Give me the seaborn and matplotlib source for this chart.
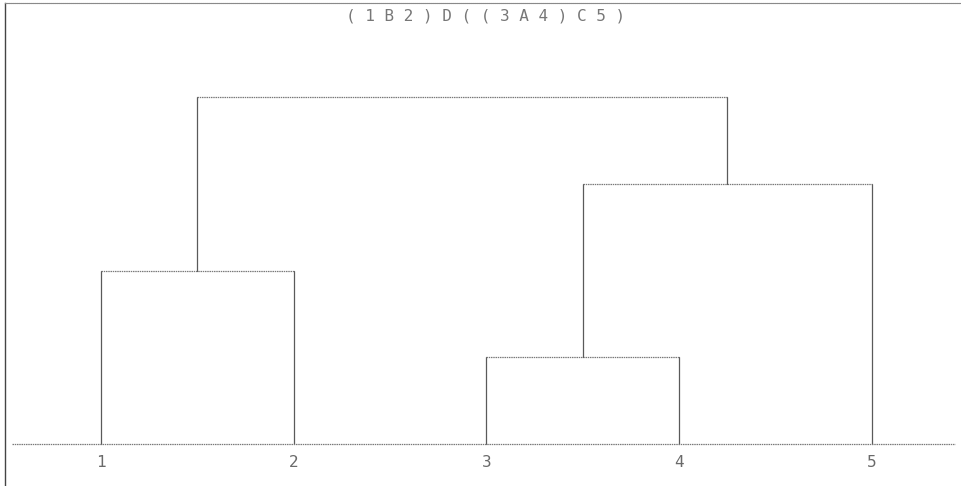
import matplotlib
matplotlib.use("Agg")
import matplotlib.pyplot as plt
import seaborn as sns

# leaves and merge heights
leaves = ["1", "2", "3", "4", "5"]
merge_names = ["B", "A", "C", "D"]
merge_left = ["1", "3", "A", "B"]
merge_right = ["2", "4", "5", "C"]
merge_height = [2.0, 1.0, 3.0, 4.0]
title = "(1B2)D((3A4)C5)"

sns.set_style("white")
plt.rcParams['font.family'] = ['DejaVu Sans Mono', 'DejaVu Sans']

fig = plt.figure(figsize=(9.62, 4.86), dpi=100)
ax = fig.add_axes([5 / 962, 0, 957 / 962, 483 / 486])

pos = {name: i + 1 for i, name in enumerate(leaves)}
hgt = {name: 0.0 for name in leaves}
line_col = "#5a5a5a"
for name, a, b, h in zip(merge_names, merge_left, merge_right, merge_height):
    ax.plot([pos[a], pos[a]], [hgt[a], h], color=line_col, lw=0.9)
    ax.plot([pos[b], pos[b]], [hgt[b], h], color=line_col, lw=0.9)
    ax.plot([pos[a], pos[b]], [h, h], color="#7a7a7a", lw=0.9,
            linestyle=(0, (1.2, 0.6)))
    pos[name] = (pos[a] + pos[b]) / 2
    hgt[name] = h

ax.set_xlim(0.502, 5.467)
ax.set_ylim(-0.484, 5.084)

# baseline
ax.axhline(0, xmin=7 / 957, xmax=950 / 957, color="#7a7a7a", lw=0.9,
           linestyle=(0, (1.2, 0.6)))

for i, lab in enumerate(leaves):
    ax.text(i + 1, -0.215, lab, ha="center", va="center", fontsize=11.5,
            color="#6a6a6a", fontweight="light")

ax.set_xticks([])
ax.set_yticks([])
for side in ["right", "bottom"]:
    ax.spines[side].set_visible(False)
ax.spines["left"].set_color("#444444")
ax.spines["left"].set_linewidth(1.0)
ax.spines["top"].set_color("#8a8a8a")
ax.spines["top"].set_linewidth(0.8)
ax.spines["top"].set_linestyle((0, (1.2, 0.6)))

# title is drawn letter-spaced like the dot-matrix original
fig.text(486 / 962, 1 - 16 / 486, " ".join(title), ha="center", va="center",
         fontsize=11.5, color="#777777")

fig.savefig("out.png", dpi=100, facecolor="white")
